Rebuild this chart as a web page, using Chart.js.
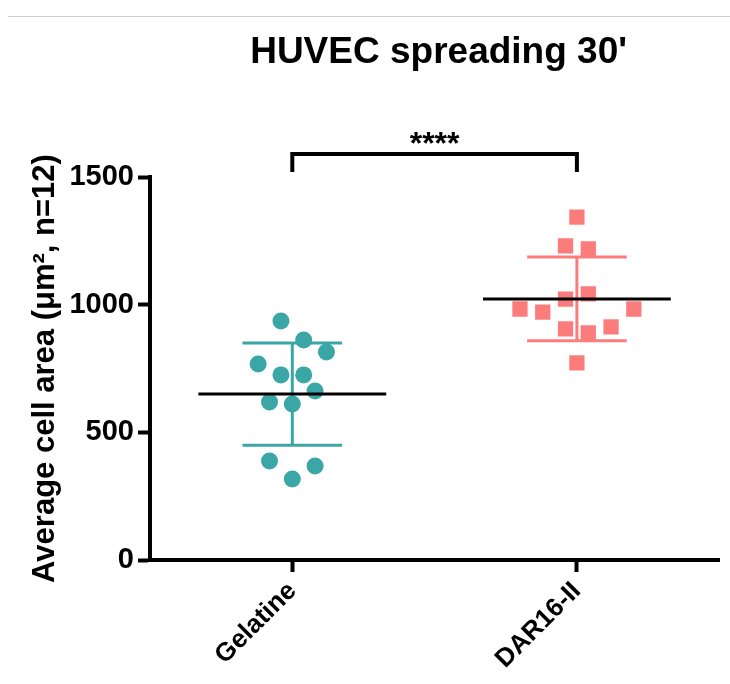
<!DOCTYPE html>
<html>
<head>
<meta charset="utf-8">
<script src="https://cdn.jsdelivr.net/npm/chart.js@4.4.0/dist/chart.umd.min.js"></script>
<style>
html, body { margin: 0; padding: 0; background: #fff; }
#wrap { position: relative; width: 730px; height: 684px; }
#rule { position: absolute; left: 8px; right: 0; top: 16px; border-top: 1px solid #cfcfcf; }
</style>
</head>
<body>
<div id="wrap">
    <div id="rule"></div>
    <canvas id="grafico"></canvas>
</div>
<script>
// datos
const titulo = "HUVEC spreading 30'";
const tituloY = 'Average cell area (\u03bcm\u00b2, n=12)';
const categorias = ['Gelatine', 'DAR16-II'];
const ticksY = [0, 500, 1000, 1500];
const gelatina = [936, 862, 815, 768, 725, 725, 662, 619, 611, 388, 368, 317];
const gelatinaDesvio = [-0.04, 0.04, 0.12, -0.12, -0.04, 0.04, 0.08, -0.08, 0, -0.08, 0.08, 0];
const dar16 = [1343, 1230, 1218, 1022, 1042, 983, 971, 983, 905, 889, 913, 772];
const dar16Desvio = [0, -0.04, 0.04, -0.04, 0.04, -0.2, -0.12, 0.2, -0.04, 0.04, 0.12, 0];
const significancia = '****';
const corchete = [1520, 1590];
const textoSignificanciaY = 1592;

const fuente = '"Liberation Sans", Arial, Helvetica, sans-serif';
const colores = ['#3ba6a6', '#fc7c7c'];

function media(v) {
    return v.reduce((a, b) => a + b, 0) / v.length;
}

function desvio(v) {
    const m = media(v);
    return Math.sqrt(v.reduce((a, b) => a + (b - m) * (b - m), 0) / (v.length - 1));
}

function puntos(valores, desv, i) {
    return valores.map((v, k) => ({ x: i + desv[k], y: v }));
}

function lineaMedia(valores, i) {
    const m = media(valores);
    return [{ x: i - 0.33, y: m }, { x: i + 0.33, y: m }];
}

function barraError(valores, i) {
    const m = media(valores);
    const s = desvio(valores);
    const a = 0.175;
    return [
        { x: i, y: m - s }, { x: i, y: m + s }, { x: i, y: null },
        { x: i - a, y: m + s }, { x: i + a, y: m + s }, { x: i, y: null },
        { x: i - a, y: m - s }, { x: i + a, y: m - s }
    ];
}

const textos = {
    id: 'textos',
    afterDraw(chart) {
        const { ctx, chartArea, scales } = chart;
        ctx.save();
        ctx.fillStyle = '#000';
        ctx.textAlign = 'center';
        ctx.textBaseline = 'alphabetic';
        ctx.font = 'bold 37px ' + fuente;
        ctx.fillText(titulo, (chartArea.left + chartArea.right) / 2 + 4, 63);
        ctx.font = 'bold 32px ' + fuente;
        ctx.fillText(significancia, scales.x.getPixelForValue(0.5), scales.y.getPixelForValue(textoSignificanciaY));
        ctx.restore();
    }
};

const series = [gelatina, dar16];
const desvios = [gelatinaDesvio, dar16Desvio];
const datasets = [];

series.forEach((valores, i) => {
    datasets.push({
        data: lineaMedia(valores, i),
        showLine: true,
        borderColor: '#000',
        borderWidth: 3,
        pointRadius: 0,
        order: 0
    });
    datasets.push({
        data: puntos(valores, desvios[i], i),
        pointStyle: i === 0 ? 'circle' : 'rect',
        pointRadius: i === 0 ? 8.5 : 10.8,
        backgroundColor: colores[i],
        borderWidth: 0,
        order: 1
    });
    datasets.push({
        data: barraError(valores, i),
        showLine: true,
        spanGaps: false,
        borderColor: colores[i],
        borderWidth: 3,
        pointRadius: 0,
        order: 2
    });
});

datasets.push({
    data: [
        { x: 0, y: corchete[0] }, { x: 0, y: corchete[1] },
        { x: 1, y: corchete[1] }, { x: 1, y: corchete[0] }
    ],
    showLine: true,
    borderColor: '#000',
    borderWidth: 4,
    pointRadius: 0,
    clip: false,
    order: 0
});

new Chart(document.getElementById('grafico'), {
    type: 'scatter',
    data: { datasets: datasets },
    plugins: [textos],
    options: {
        responsive: true,
        maintainAspectRatio: false,
        animation: false,
        layout: { padding: { top: 177, right: 8, left: 0, bottom: 0 } },
        plugins: {
            legend: { display: false },
            tooltip: { enabled: false }
        },
        scales: {
            x: {
                type: 'linear',
                min: -0.5,
                max: 1.5,
                afterBuildTicks: s => { s.ticks = categorias.map((c, i) => ({ value: i })); },
                afterFit: s => { s.height = 124; },
                ticks: {
                    callback: v => categorias[v],
                    minRotation: 45,
                    maxRotation: 45,
                    color: '#000',
                    padding: 4,
                    font: { family: fuente, size: 26, weight: 'bold' }
                },
                grid: { display: true, drawOnChartArea: false, drawTicks: true, tickLength: 12, tickWidth: 4, tickColor: '#000' },
                border: { display: true, color: '#000', width: 4 }
            },
            y: {
                min: 0,
                max: 1500,
                afterBuildTicks: s => { s.ticks = ticksY.map(v => ({ value: v })); },
                afterFit: s => { s.width = 150; },
                ticks: {
                    callback: v => String(v),
                    color: '#000',
                    padding: 4,
                    font: { family: fuente, size: 29, weight: 'bold' }
                },
                grid: { display: true, drawOnChartArea: false, drawTicks: true, tickLength: 12, tickWidth: 4, tickColor: '#000' },
                border: { display: true, color: '#000', width: 4 },
                title: {
                    display: true,
                    text: tituloY,
                    color: '#000',
                    padding: { top: 27, bottom: 0 },
                    font: { family: fuente, size: 31, weight: 'bold' }
                }
            }
        }
    }
});
</script>
</body>
</html>
